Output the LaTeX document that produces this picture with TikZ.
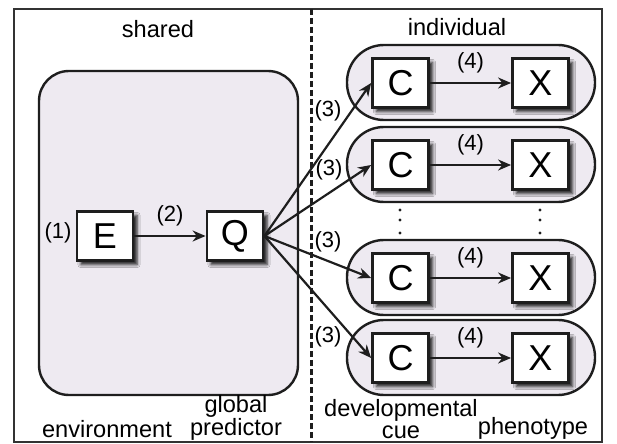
\documentclass[tikz,border=0pt]{standalone}
\usepackage{fontspec}
\setmainfont{Liberation Sans}
\usetikzlibrary{arrows.meta,shadows.blur}
\definecolor{lavender_fill}{HTML}{EEEAF1}
\definecolor{ink}{HTML}{1E1E1E}

\begin{document}
\begin{tikzpicture}[x=0.5pt,y=-0.5pt,
    var/.style={draw=ink,line width=1.4pt,fill=white,minimum width=28pt,minimum height=24.5pt,inner sep=0pt,
      font=\fontsize{18}{20}\selectfont,
      blur shadow={shadow xshift=2pt,shadow yshift=-2pt,shadow blur radius=1.6pt,shadow opacity=90}},
    link/.style={-{Stealth[length=6.5pt,width=5.5pt]},draw=ink,line width=1.1pt},
    num/.style={font=\fontsize{11}{13}\selectfont,inner sep=1pt},
    caption/.style={font=\fontsize{11.8}{11.2}\selectfont,align=center},
    pill/.style={draw=ink,line width=1.2pt,fill=lavender_fill,minimum width=124pt,minimum height=37.5pt,rounded corners=18.5pt}]
    \useasboundingbox (0,0) rectangle (617,444);
    \draw[line width=1pt,draw=black!80] (14,9) rectangle (602,442);
    \draw[line width=1.5pt,draw=ink,dash pattern=on 3pt off 1.5pt] (311,9) -- (311,442);
    % shared part
    \node[caption] (sharedlabel) at (158,29) {shared};
    \node[draw=ink,line width=1.2pt,fill=lavender_fill,minimum width=129.5pt,minimum height=162pt,rounded corners=15pt] (sharedbox) at (168.5,233) {};
    \node[var] (env) at (105,236) {E};
    \node[var] (pred) at (235,236) {Q};
    \node[num] (envnum) at (58,233) {(1)};
    \draw[link] (env) -- node[num,above=3.5pt] {(2)} (pred);
    % individual part
    \node[caption] (indivlabel) at (457,27) {individual};
    \node[pill] (pill1) at (471,82.5) {};
    \node[pill] (pill2) at (471,164.5) {};
    \node[pill] (pill3) at (471,277.5) {};
    \node[pill] (pill4) at (471,357.5) {};
    \node[var] (cue1) at (400.5,83) {C};
    \node[var] (cue2) at (400.5,165) {C};
    \node[var] (cue3) at (400.5,278) {C};
    \node[var] (cue4) at (400.5,358) {C};
    \node[var] (phen1) at (540.5,83) {X};
    \node[var] (phen2) at (540.5,165) {X};
    \node[var] (phen3) at (540.5,278) {X};
    \node[var] (phen4) at (540.5,358) {X};
    \draw[link] (cue1) -- node[num,above=3.5pt] {(4)} (phen1);
    \draw[link] (cue2) -- node[num,above=3.5pt] {(4)} (phen2);
    \draw[link] (cue3) -- node[num,above=3.5pt] {(4)} (phen3);
    \draw[link] (cue4) -- node[num,above=3.5pt] {(4)} (phen4);
    \draw[link] (pred.east) -- (cue1.west);
    \draw[link] (pred.east) -- (cue2.west);
    \draw[link] (pred.east) -- (cue3.west);
    \draw[link] (pred.east) -- (cue4.west);
    \node[num] (cuenum1) at (328,111) {(3)};
    \node[num] (cuenum2) at (329,170) {(3)};
    \node[num] (cuenum3) at (328,242) {(3)};
    \node[num] (cuenum4) at (328,337) {(3)};
    % vertical dots
    \fill[ink] (400,210) circle (0.8pt) (400,220) circle (0.8pt) (400,233) circle (0.8pt);
    \fill[ink] (540,210) circle (0.8pt) (540,220) circle (0.8pt) (540,233) circle (0.8pt);
    % bottom captions
    \node[caption] (envtext) at (107,429) {environment};
    \node[caption] (predtext) at (236,418) {global\\predictor};
    \node[caption] (cuetext) at (401,419) {developmental\\cue};
    \node[caption] (phentext) at (533,428) {phenotype};
\end{tikzpicture}
\end{document}
